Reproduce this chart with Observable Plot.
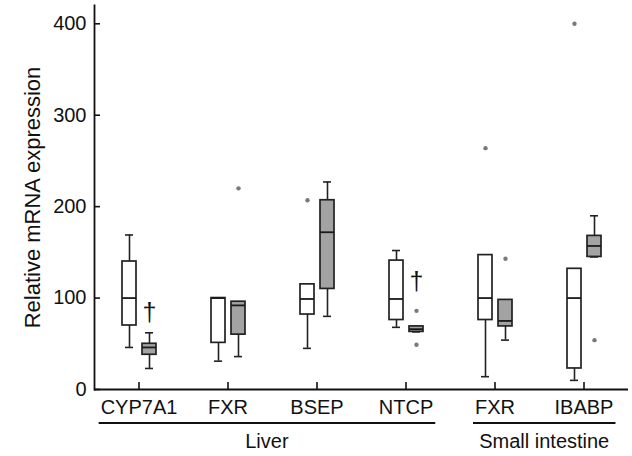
<!DOCTYPE html>
<html>
<head>
<meta charset="utf-8">
<script src="https://cdn.jsdelivr.net/npm/d3@7"></script>
<script src="https://cdn.jsdelivr.net/npm/@observablehq/plot@0.6"></script>
<style>
  html, body { margin: 0; padding: 0; background: #fff; }
  #chart svg [aria-label="frame"] { stroke-width: 1.8; }
  #chart svg [aria-label="y-axis tick"] { stroke-width: 1.6; }
  #chart svg [aria-label="fx-axis tick"] { stroke-width: 1.6; }
  #chart svg [aria-label="y-axis label"] { font-size: 22px; }
</style>
</head>
<body>
<div id="chart"></div>
<script>
// ---- data ----
const geneKeys   = ["CYP7A1", "FXR-liver", "BSEP", "NTCP", "FXR-intestine", "IBABP"];
const geneLabels = ["CYP7A1", "FXR", "BSEP", "NTCP", "FXR", "IBABP"];
const geneTissue = ["Liver", "Liver", "Liver", "Liver", "Small intestine", "Small intestine"];
const groups = ["control", "treated"];
const yTicks = [0, 100, 200, 300, 400];

// control (open boxes)
const ctrlLow  = [46, 31, 45, 68, 14, 10];
const ctrlQ1   = [70, 51, 82, 76, 76, 23];
const ctrlMed  = [100, 100, 99, 99, 100, 100];
const ctrlQ3   = [140, 100, 115, 141, 147, 132];
const ctrlHigh = [169, 100, 115, 152, 147, 132];
// treated (grey boxes)
const trtLow  = [23, 36, 80, 63, 54, 145];
const trtQ1   = [38, 60, 110, 63, 69, 145];
const trtMed  = [46, 92, 172, 66, 75, 157];
const trtQ3   = [50, 96, 207, 69, 98, 168];
const trtHigh = [62, 96, 227, 69, 98, 190];

// outliers
const outGene  = ["FXR-liver", "BSEP", "NTCP", "NTCP", "FXR-intestine", "FXR-intestine", "IBABP", "IBABP"];
const outGroup = ["treated", "control", "treated", "treated", "control", "treated", "control", "treated"];
const outValue = [220, 207, 86, 49, 264, 143, 400, 54];

// significance daggers
const sigGene  = ["CYP7A1", "NTCP"];
const sigGroup = ["treated", "treated"];
const sigValue = [84, 118];

// ---- tables ----
const boxes = geneKeys.flatMap((g, i) => [
  {gene: g, group: "control", low: ctrlLow[i], q1: ctrlQ1[i], med: ctrlMed[i], q3: ctrlQ3[i], high: ctrlHigh[i]},
  {gene: g, group: "treated", low: trtLow[i], q1: trtQ1[i], med: trtMed[i], q3: trtQ3[i], high: trtHigh[i]}
]);
const outliers = outGene.map((g, i) => ({gene: g, group: outGroup[i], value: outValue[i]}));
const sigs = sigGene.map((g, i) => ({gene: g, group: sigGroup[i], value: sigValue[i]}));
const labelOf = new Map(geneKeys.map((k, i) => [k, geneLabels[i]]));

const ink = "#111";
const chart = Plot.plot({
  width: 632,
  height: 456,
  marginLeft: 94,
  marginRight: 4,
  marginTop: 5,
  marginBottom: 67,
  style: {fontFamily: "'Liberation Sans', Arial, Helvetica, sans-serif", fontSize: "20px", color: ink, background: "#fff"},
  fx: {domain: geneKeys, paddingInner: 0, paddingOuter: 0, label: null, tickSize: -7, tickPadding: 17, tickFormat: d => labelOf.get(d)},
  x: {domain: groups, paddingInner: 0.3, paddingOuter: 1.37, axis: null},
  y: {domain: [0, 420], ticks: yTicks, tickSize: -6, tickPadding: 14, line: true,
      label: "Relative mRNA expression", labelAnchor: "center", labelOffset: 70, labelArrow: "none"},
  marks: [
    Plot.ruleY([0], {stroke: ink, strokeWidth: 2}),
    Plot.ruleX(boxes, {fx: "gene", x: "group", y1: "low", y2: "high", stroke: "#222", strokeWidth: 1.6}),
    Plot.tickY(boxes, {fx: "gene", x: "group", y: "low", stroke: "#222", strokeWidth: 1.6, insetLeft: 3, insetRight: 3}),
    Plot.tickY(boxes, {fx: "gene", x: "group", y: "high", stroke: "#222", strokeWidth: 1.6, insetLeft: 3, insetRight: 3}),
    Plot.barY(boxes, {fx: "gene", x: "group", y1: "q1", y2: "q3",
      fill: d => d.group === "control" ? "#fff" : "#a3a3a3", stroke: "#222", strokeWidth: 1.7}),
    Plot.tickY(boxes, {fx: "gene", x: "group", y: "med", stroke: "#1a1a1a", strokeWidth: 1.8}),
    Plot.dot(outliers, {fx: "gene", x: "group", y: "value", r: 2.2, fill: "#7a7a7a", stroke: "none"}),
    Plot.text(sigs, {fx: "gene", x: "group", y: "value", text: () => "†", fontSize: 25, fill: ink})
  ]
});

document.getElementById("chart").appendChild(chart);

// ---- tissue grouping below the gene labels ----
const svg = d3.select(chart);
const tickTexts = Array.from(chart.querySelectorAll('[aria-label="fx-axis tick label"] text'));
const fx = chart.scale("fx");
const extents = new Map();
geneKeys.forEach((k, i) => {
  let x0, x1;
  if (tickTexts[i]) {
    const b = tickTexts[i].getBBox();
    const m = tickTexts[i].getCTM();
    x0 = b.x + (m ? m.e : 0); x1 = b.x + b.width + (m ? m.e : 0);
  } else {
    const c = fx.apply(k) + fx.bandwidth / 2; x0 = c - 30; x1 = c + 30;
  }
  const t = geneTissue[i];
  const e = extents.get(t);
  if (!e) extents.set(t, [x0, x1]); else { e[0] = Math.min(e[0], x0); e[1] = Math.max(e[1], x1); }
});
const lineY = 423, labelY = 448, pad = 2;
const g = svg.append("g").attr("aria-label", "tissue groups");
for (const [t, [x0, x1]] of extents) {
  g.append("line").attr("x1", x0 - pad).attr("x2", x1 + pad).attr("y1", lineY).attr("y2", lineY)
    .attr("stroke", ink).attr("stroke-width", 2);
  g.append("text").attr("x", (x0 + x1) / 2).attr("y", labelY).attr("text-anchor", "middle")
    .attr("fill", ink).attr("font-size", 20).text(t);
}
</script>
</body>
</html>
